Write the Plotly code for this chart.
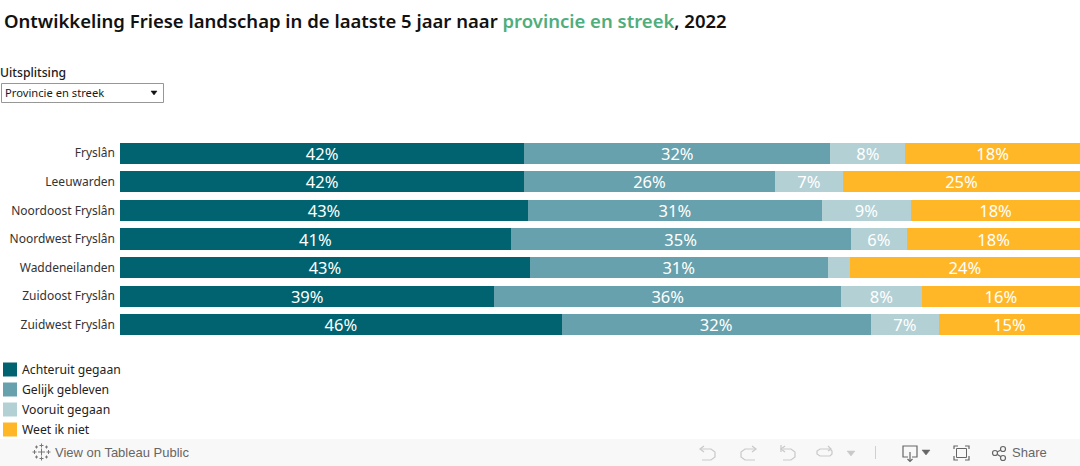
import plotly.graph_objects as go

regions = ["Fryslân", "Leeuwarden", "Noordoost Fryslân", "Noordwest Fryslân",
           "Waddeneilanden", "Zuidoost Fryslân", "Zuidwest Fryslân"]
achteruit = [42.1, 42.1, 42.5, 40.7, 42.7, 39.0, 46.0]
gelijk = [31.9, 26.1, 30.6, 35.4, 31.0, 36.1, 32.2]
vooruit = [7.8, 7.1, 9.3, 5.9, 2.3, 8.4, 7.1]
weet_niet = [18.2, 24.7, 17.6, 18.0, 24.0, 16.5, 14.7]

achteruit_labels = ["42%", "42%", "43%", "41%", "43%", "39%", "46%"]
gelijk_labels = ["32%", "26%", "31%", "35%", "31%", "36%", "32%"]
vooruit_labels = ["8%", "7%", "9%", "6%", "", "8%", "7%"]
weet_niet_labels = ["18%", "25%", "18%", "18%", "24%", "16%", "15%"]

series_names = ["Achteruit gegaan", "Gelijk gebleven", "Vooruit gegaan", "Weet ik niet"]
series_colors = ["#00636f", "#67a1ad", "#b3d0d5", "#ffb727"]
series_values = [achteruit, gelijk, vooruit, weet_niet]
series_labels = [achteruit_labels, gelijk_labels, vooruit_labels, weet_niet_labels]

W, H = 1080, 466
L, R, T, B = 120, 0, 139, 127
FONT = "Noto Sans"
TOOLBAR_FONT = "Liberation Sans"
INK = "#1a1a1a"

fig = go.Figure()
for name, color, vals, labels in zip(series_names, series_colors, series_values, series_labels):
    fig.add_trace(go.Bar(
        y=regions, x=vals, name=name, orientation="h",
        marker=dict(color=color, line=dict(width=0)),
        text=labels, textposition="inside", insidetextanchor="middle",
        textangle=0, constraintext="none",
        textfont=dict(family=FONT, size=16.5, color="white"),
        showlegend=False, cliponaxis=False,
    ))

def px(x): return (x - L) / (W - L - R)
def py(y): return (H - B - y) / (H - T - B)

shapes, annots = [], []

def rect(x0, y0, x1, y1, fill, line=None, w=1):
    shapes.append(dict(type="rect", xref="paper", yref="paper",
                       x0=px(x0), x1=px(x1), y0=py(y0), y1=py(y1),
                       fillcolor=fill, line=dict(color=line, width=w) if line else dict(width=0),
                       layer="above"))

def text(x, y, s, size=12, color=INK, anchor="left", weight=None, family=FONT):
    annots.append(dict(xref="paper", yref="paper", x=px(x), y=py(y), text=s, showarrow=False,
                       xanchor=anchor, yanchor="middle",
                       font=dict(family=family, size=size, color=color,
                                 **({"weight": weight} if weight else {})),
                       borderpad=0, borderwidth=0))

def poly(points, color="#c4c4c4", w=1.2, fill=None, close=False):
    d = "M" + " L".join(f"{px(x)},{py(y)}" for x, y in points) + (" Z" if close else "")
    shapes.append(dict(type="path", path=d, xref="paper", yref="paper",
                       line=dict(color=color, width=w),
                       fillcolor=fill if fill else "rgba(0,0,0,0)", layer="above"))

# Title
text(4, 20.5, 'Ontwikkeling Friese landschap in de laatste 5 jaar naar '
     '<span style="color:#4fae7c">provincie en streek</span>, 2022', size=18.5, color="#111111", weight=600)

# Filter control
text(0, 73, "Uitsplitsing", size=12.2, weight=500)
rect(1.5, 83.5, 163.5, 102.5, "white", "#979797", 1)
text(5, 92.5, "Provincie en streek", size=11.2)
poly([(151, 91), (157, 91), (154, 95)], color="#111111", w=0.5, fill="#111111", close=True)

# Legend
for i, (name, color) in enumerate(zip(series_names, series_colors)):
    cy = 369.5 + i * 20
    rect(3, cy - 7, 17, cy + 7, color)
    text(22, cy, name, size=12.2, color="#222222")

# Toolbar
rect(0, 439, 1080, 466, "#f8f8f8")
text(55, 452.5, "View on Tableau Public", size=13, color="#666666", family=TOOLBAR_FONT)
text(1012, 452.5, "Share", size=13, color="#666666", family=TOOLBAR_FONT)

# Tableau mark
for cx, cy, r in [(41.5, 452, 3.5), (34.5, 452, 2), (48.5, 452, 2), (41.5, 445.5, 2), (41.5, 458.5, 2),
                  (36.5, 447, 1.5), (46.5, 447, 1.5), (36.5, 457, 1.5), (46.5, 457, 1.5)]:
    poly([(cx - r, cy), (cx + r, cy)], color="#777777", w=1)
    poly([(cx, cy - r), (cx, cy + r)], color="#777777", w=1)

# Toolbar icons
G = "#c9c9c9"
poly([(701, 449), (711, 449), (715, 452), (715, 457), (711, 460), (702, 460)], G)
poly([(704, 446), (700, 449), (704, 452)], G)
poly([(755, 449), (745, 449), (741, 452), (741, 457), (745, 460), (755, 460)], G)
poly([(752, 446), (756, 449), (752, 452)], G)
poly([(783, 449), (791, 449), (795, 452), (795, 457), (791, 460), (783, 460)], G)
poly([(785, 446), (781, 449), (785, 452)], G)
poly([(781, 445), (781, 452)], G)
poly([(830, 449), (820, 449), (817, 451), (817, 454), (820, 456), (830, 456), (832, 454), (832, 451), (830, 449)], G)
poly([(828, 446), (831, 449), (828, 451)], G)
poly([(847, 451), (855, 451), (851, 456)], color=G, w=0.5, fill=G, close=True)
poly([(875.5, 446), (875.5, 459)], "#d0d0d0", 1)
D = "#666666"
poly([(908, 457), (903, 457), (903, 446), (917, 446), (917, 457), (912, 457)], D)
poly([(910, 452), (910, 461)], D)
poly([(907.5, 459), (910, 461.5), (912.5, 459)], D)
poly([(922, 450), (930, 450), (926, 455)], color=D, w=0.5, fill=D, close=True)
for a, b, c in [((954, 449), (954, 446), (958, 446)), ((965, 446), (969, 446), (969, 449)),
                ((954, 456), (954, 460), (958, 460)), ((965, 460), (969, 460), (969, 456))]:
    poly([a, b, c], D)
rect(956.5, 448.5, 966.5, 457.5, "rgba(0,0,0,0)", D, 1)
poly([(995, 453), (1003, 449)], D)
poly([(995, 453), (1003, 458)], D)
for cx, cy, r in [(995, 453, 2.5), (1003, 449, 2.5), (1003, 458, 2.5)]:
    shapes.append(dict(type="circle", xref="paper", yref="paper",
                       x0=px(cx - r), x1=px(cx + r), y0=py(cy - r), y1=py(cy + r),
                       line=dict(color=D, width=1.2), fillcolor="#f8f8f8", layer="above"))

fig.update_layout(
    width=W, height=H, autosize=False,
    margin=dict(l=L, r=R, t=T, b=B, pad=0),
    barmode="stack", bargap=0.263,
    paper_bgcolor="white", plot_bgcolor="white",
    uniformtext=dict(mode=False),
    font=dict(family=FONT, color=INK),
    xaxis=dict(range=[0, 100], visible=False, fixedrange=True),
    yaxis=dict(autorange="reversed", showgrid=False, zeroline=False, showline=False,
               ticks="", ticklabelstandoff=4, fixedrange=True,
               tickfont=dict(family=FONT, size=12, color="#333333")),
    shapes=shapes, annotations=annots,
)

fig.write_html("out.html", config={"displayModeBar": False},
               post_script="document.body.style.margin='0';")
